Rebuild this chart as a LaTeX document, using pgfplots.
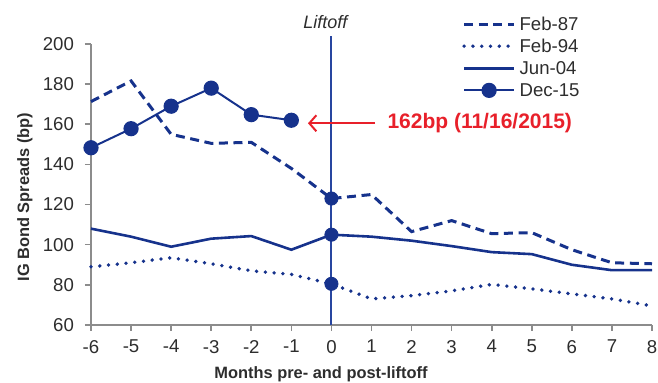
\documentclass[border=0pt]{standalone}
\usepackage{pgfplots}
\pgfplotsset{compat=1.18}
\usepackage{fontspec}
\setmainfont{Liberation Sans}
\usetikzlibrary{arrows.meta}
\definecolor{navy}{RGB}{22,50,140}
\definecolor{liftline}{RGB}{40,70,160}
\definecolor{liftred}{RGB}{232,32,42}
\definecolor{axgray}{RGB}{140,140,140}
\definecolor{txt}{RGB}{45,45,45}
\begin{document}
\begin{tikzpicture}
\begin{axis}[
  scale only axis,
  width=280.5pt, height=140.5pt,
  xmin=-6, xmax=8, ymin=60, ymax=200,
  axis x line=bottom, axis y line=left,
  axis line style={-, axgray, line width=0.9pt},
  xtick={-6,-5,...,8}, ytick={60,80,...,200},
  tick align=outside, major tick length=3pt,
  tick style={axgray, line width=0.8pt},
  /pgf/number format/assume math mode=true,
  tick label style={font=\fontsize{9.3}{10}\selectfont, text=txt},
  xticklabel style={yshift=-1pt},
  yticklabel style={xshift=-2pt},
  every axis x label/.style={at={(rel axis cs:0.41,0)}, anchor=base, yshift=-26.7pt},
  every axis y label/.style={at={(rel axis cs:0,0.455)}, xshift=-33pt, rotate=90, anchor=center},
  label style={font=\fontsize{8.2}{9}\selectfont\bfseries, text=txt},
  xlabel={Months pre- and post-liftoff},
  ylabel={IG Bond Spreads (bp)},
  clip=false,
  legend style={draw=none, fill=none, at={(rel axis cs:0.661,1.105)}, anchor=north west,
    font=\fontsize{9.3}{10}\selectfont, text=txt, inner sep=0pt, row sep=1.85pt,
    nodes={inner ysep=0.5pt, inner xsep=1.8pt, text height=0.72em, text depth=0.1em}},
  legend cell align=left,
  legend image code/.code={\draw[mark repeat=2, mark phase=2, #1] plot coordinates {(0pt,0pt)(12.5pt,0pt)(25pt,0pt)};},
]
\addplot[navy, line width=1.5pt, dash pattern=on 4.5pt off 2.8pt] coordinates {
(-6,171.3)(-5,181.6)(-4,155)(-3,150.5)(-2,151)(-1,138)(0,123)(1,125)(2,106.5)(3,112)(4,105.5)(5,106)(6,97.5)(7,91)(8,90.5)};
\addlegendentry{Feb-87}
\addplot[navy, line width=1.9pt, line cap=round, dash pattern=on 0pt off 4.4pt] coordinates {
(-6,89)(-5,91)(-4,93.5)(-3,90.5)(-2,87)(-1,85.2)(0,80.5)(1,73)(2,74.6)(3,77)(4,80.2)(5,78)(6,75.5)(7,73)(8,69.5)};
\addlegendentry{Feb-94}
\addplot[navy, line width=1.3pt] coordinates {
(-6,108)(-5,104)(-4,99)(-3,103)(-2,104.3)(-1,97.5)(0,105)(1,104)(2,102)(3,99.3)(4,96.3)(5,95.3)(6,90)(7,87.3)(8,87.3)};
\addlegendentry{Jun-04}
\addplot[navy, line width=1pt, mark=*, mark size=3.3pt, mark options={fill=navy, draw=navy}] coordinates {
(-6,148.3)(-5,157.8)(-4,169)(-3,178)(-2,164.8)(-1,162)};
\addlegendentry{Dec-15}
\addplot[forget plot, only marks, mark=*, mark size=3.3pt, navy, mark options={fill=navy}] coordinates {(0,123)(0,105)(0,80.5)};
\draw[liftline, line width=1pt] (axis cs:0,60) -- (axis cs:0,204);
\node[font=\fontsize{9}{10}\selectfont\itshape, text=txt] at (axis cs:-0.15,211) {Liftoff};
\draw[liftred, line width=1pt, -{Straight Barb[length=3.5pt,width=8pt,line width=1pt]}] (axis cs:1.09,160.5) -- (axis cs:-0.585,160.5);
\node[font=\fontsize{10.5}{11}\selectfont\bfseries, text=liftred, anchor=west, inner sep=0pt] at (axis cs:1.39,160.5) {162bp (11/16/2015)};
\coordinate (bl) at (rel axis cs:0,0);
\coordinate (tr) at (rel axis cs:1,1);
\end{axis}
\pgfresetboundingbox
\path[use as bounding box] ([shift={(-45.5pt,-29pt)}]bl) rectangle ([shift={(3pt,22pt)}]tr);
\end{tikzpicture}
\end{document}
